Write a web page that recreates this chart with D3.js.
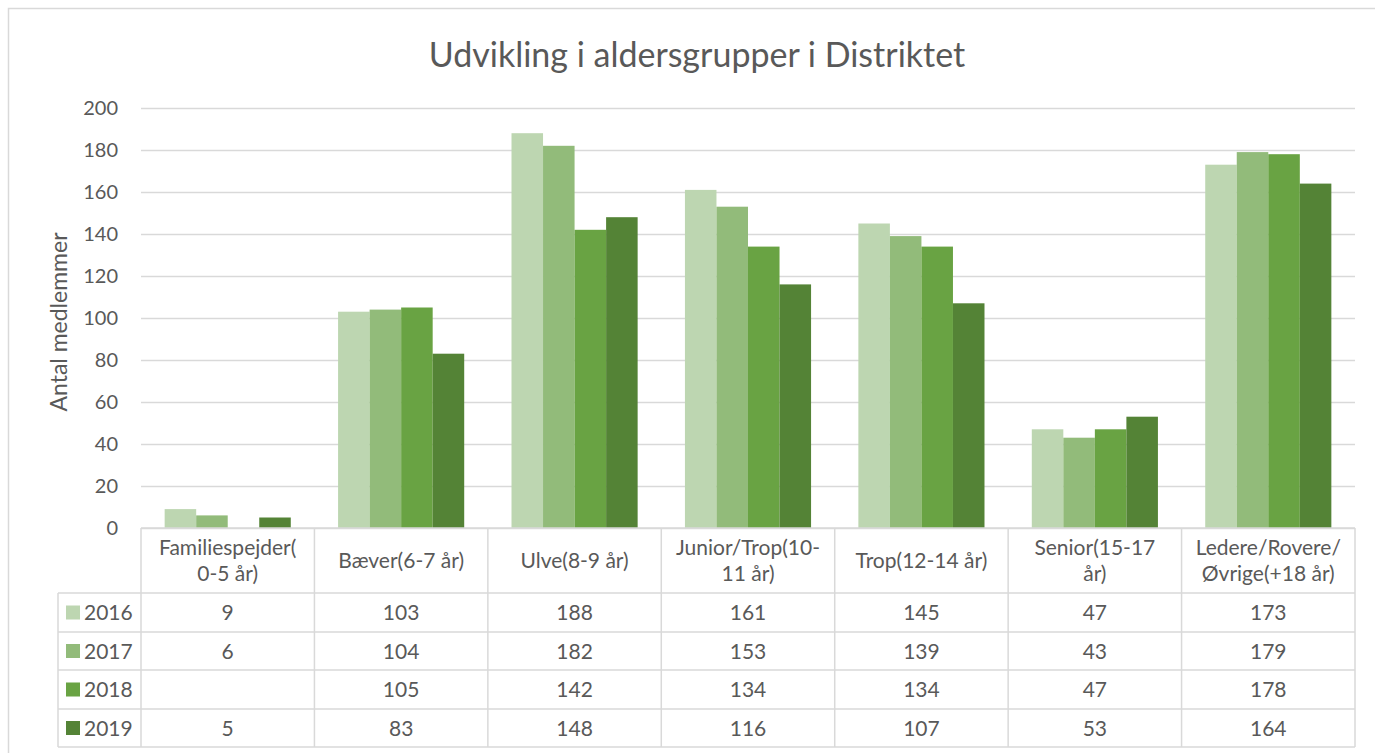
<!DOCTYPE html>
<html>
<head>
<meta charset="utf-8">
<script src="https://cdn.jsdelivr.net/npm/d3@7"></script>
<style>
  html, body { margin: 0; padding: 0; background: #fff; }
  svg { display: block; font-family: "Lato", "Open Sans", sans-serif; }
</style>
</head>
<body>
<svg id="chart" width="1375" height="753"></svg>
<script>
// Membership per age group, one array per year
const categories = [
  ["Familiespejder(", "0-5 år)"],
  ["Bæver(6-7 år)"],
  ["Ulve(8-9 år)"],
  ["Junior/Trop(10-", "11 år)"],
  ["Trop(12-14 år)"],
  ["Senior(15-17", "år)"],
  ["Ledere/Rovere/", "Øvrige(+18 år)"]
];
const years = ["2016", "2017", "2018", "2019"];
const values2016 = [9, 103, 188, 161, 145, 47, 173];
const values2017 = [6, 104, 182, 153, 139, 43, 179];
const values2018 = [null, 105, 142, 134, 134, 47, 178];
const values2019 = [5, 83, 148, 116, 107, 53, 164];
const yTicks = [0, 20, 40, 60, 80, 100, 120, 140, 160, 180, 200];
const colors = ["#bdd6b1", "#92bb7a", "#69a343", "#548336"];

const series = [values2016, values2017, values2018, values2019];
const catIdx = categories.map((_, i) => i);

const svg = d3.select("#chart");
const textColor = "#595959";
const gridColor = "#d9d9d9";
const bodySize = 21;

// Chart frame
svg.append("rect")
  .attr("x", 8.5).attr("y", 8.5)
  .attr("width", 1380).attr("height", 760)
  .attr("fill", "#fff").attr("stroke", gridColor).attr("stroke-width", 1.5);

const plotLeft = 141, plotRight = 1355, plotTop = 108, plotBottom = 528;
const legendLeft = 58;
const rowEdges = [528, 593, 632, 670, 709, 747];

const x = d3.scaleBand().domain(catIdx).range([plotLeft, plotRight]).padding(0);
const xi = d3.scaleBand().domain(years).range([0, x.bandwidth()])
  .paddingInner(0).paddingOuter(0.75);
const y = d3.scaleLinear().domain([0, 200]).range([plotBottom, plotTop]);

// Title
svg.append("text")
  .attr("x", 697).attr("y", 67)
  .attr("text-anchor", "middle")
  .attr("font-size", 34)
  .attr("fill", textColor)
  .text("Udvikling i aldersgrupper i Distriktet");

// Gridlines and tick labels
const yAxis = d3.axisLeft(y).tickValues(yTicks).tickSize(-(plotRight - plotLeft)).tickPadding(23);
const gAxis = svg.append("g").attr("transform", `translate(${plotLeft},0)`).call(yAxis);
gAxis.select(".domain").remove();
gAxis.selectAll(".tick line").attr("stroke", gridColor).attr("stroke-width", 1.5);
gAxis.selectAll(".tick text")
  .attr("fill", textColor).attr("font-size", 20)
  .attr("font-family", "Lato, sans-serif");

// Axis title
svg.append("text")
  .attr("transform", `translate(67,${(plotTop + plotBottom) / 2 + 4}) rotate(-90)`)
  .attr("text-anchor", "middle")
  .attr("font-size", 23)
  .attr("fill", textColor)
  .text("Antal medlemmer");

// Bars
series.forEach((vals, s) => {
  svg.append("g").selectAll("rect")
    .data(catIdx.filter(i => vals[i] != null))
    .join("rect")
    .attr("x", i => x(i) + xi(years[s]))
    .attr("y", i => y(vals[i]))
    .attr("width", xi.bandwidth())
    .attr("height", i => y(0) - y(vals[i]))
    .attr("fill", colors[s]);
});

// Data table beneath the plot
const table = svg.append("g");
// horizontal rules
rowEdges.forEach((ry, k) => {
  table.append("line")
    .attr("x1", k === 0 ? plotLeft : legendLeft).attr("x2", plotRight)
    .attr("y1", ry).attr("y2", ry)
    .attr("stroke", gridColor).attr("stroke-width", 1.5);
});
// vertical rules
d3.range(categories.length + 1).forEach(k => {
  const vx = k < categories.length ? x(k) : plotRight;
  table.append("line")
    .attr("x1", vx).attr("x2", vx)
    .attr("y1", rowEdges[0]).attr("y2", rowEdges[rowEdges.length - 1])
    .attr("stroke", gridColor).attr("stroke-width", 1.5);
});
table.append("line")
  .attr("x1", legendLeft).attr("x2", legendLeft)
  .attr("y1", rowEdges[1]).attr("y2", rowEdges[rowEdges.length - 1])
  .attr("stroke", gridColor).attr("stroke-width", 1.5);

// category headers
categories.forEach((lines, i) => {
  const cx = x(i) + x.bandwidth() / 2;
  const mid = (rowEdges[0] + rowEdges[1]) / 2;
  const lh = 26;
  const t = table.append("text")
    .attr("text-anchor", "middle")
    .attr("font-size", bodySize)
    .attr("fill", textColor);
  lines.forEach((ln, j) => {
    t.append("tspan")
      .attr("x", cx)
      .attr("y", mid + 7.5 + (j - (lines.length - 1) / 2) * lh)
      .text(ln);
  });
});

// legend cells and values
years.forEach((yr, s) => {
  const r0 = rowEdges[s + 1], r1 = rowEdges[s + 2];
  const my = (r0 + r1) / 2;
  table.append("rect")
    .attr("x", 66).attr("y", my - 7)
    .attr("width", 14).attr("height", 14)
    .attr("fill", colors[s]);
  table.append("text")
    .attr("x", 84).attr("y", my + 7.5)
    .attr("font-size", bodySize).attr("fill", textColor)
    .text(yr);
  series[s].forEach((v, i) => {
    if (v == null) return;
    table.append("text")
      .attr("x", x(i) + x.bandwidth() / 2)
      .attr("y", my + 7.5)
      .attr("text-anchor", "middle")
      .attr("font-size", bodySize).attr("fill", textColor)
      .text(v);
  });
});
</script>
</body>
</html>
